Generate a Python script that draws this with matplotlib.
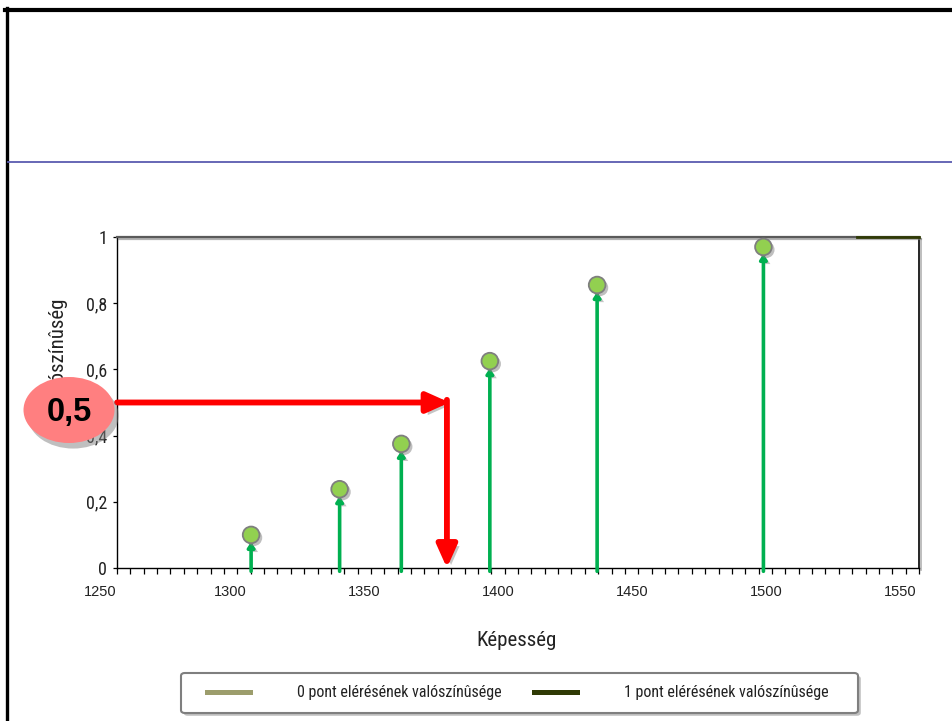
import numpy as np
import matplotlib
matplotlib.use("Agg")
import matplotlib.pyplot as plt
import matplotlib.patheffects as pe
from matplotlib import font_manager as fm
from matplotlib.lines import Line2D
from matplotlib.patches import Ellipse, FancyBboxPatch

# ---------------- data ----------------
abilities = [1309, 1342, 1365, 1398, 1438, 1500]
probabilities = [0.10, 0.238, 0.375, 0.625, 0.855, 0.97]
threshold_p = 0.5
threshold_ability = 1382
threshold_label = "0,5"
curve1_x = [1535, 1558]          # visible piece of the "1 pont" curve
curve1_y = [1.0, 1.0]
x_ticklabels = [1250, 1300, 1350, 1400, 1450, 1500, 1550]
y_ticks = [0, 0.2, 0.4, 0.6, 0.8, 1.0]
y_ticklabels = ["0", "0,2", "0,4", "0,6", "0,8", "1"]
legend_labels = ["0 pont elérésének valószínûsége", "1 pont elérésének valószínûsége"]
x_label = "Képesség"
y_label = "Valószínûség"


def pick(names, default="DejaVu Sans"):
    for n in names:
        try:
            fm.findfont(fm.FontProperties(family=n), fallback_to_default=False)
            return n
        except Exception:
            pass
    return default


narrow = pick(["Liberation Sans Narrow", "Roboto Condensed", "Open Sans Condensed"])
regular = pick(["Liberation Sans", "Arial"])

W, H = 953, 721
fig = plt.figure(figsize=(W / 100, H / 100), dpi=100)


def fx(px):
    return px / W


def fy(py):
    return 1 - py / H


# slide decorations
fig.add_artist(Line2D([fx(5), fx(953)], [fy(10), fy(10)], color="black", lw=3.0))
fig.add_artist(Line2D([fx(6.5), fx(6.5)], [fy(8), fy(721)], color="black", lw=2.4))
fig.add_artist(Line2D([fx(8), fx(953)], [fy(162), fy(162)], color="#5a5cb0", lw=1.3))

ax = fig.add_axes([fx(117), fy(568), fx(919) - fx(117), fy(237) - fy(568)])
ax.set_xlim(1259, 1558)
ax.set_ylim(0, 1)

for s in ["left", "bottom"]:
    ax.spines[s].set_color("black")
    ax.spines[s].set_linewidth(1.0)
ax.spines["top"].set_color("#5a5a5a")
ax.spines["top"].set_linewidth(1.6)
ax.spines["right"].set_color("black")
ax.spines["right"].set_linewidth(1.2)
shadow = [pe.SimpleLineShadow(offset=(1.5, -1.5), shadow_color="gray", alpha=0.6), pe.Normal()]
ax.spines["right"].set_path_effects(shadow)
ax.spines["top"].set_path_effects(shadow)

# ticks
ax.set_xticks(np.linspace(1259, 1558, 61))
ax.tick_params(axis="x", direction="out", length=4, width=0.9, labelbottom=False)
ax.set_yticks(y_ticks)
ax.set_yticklabels(y_ticklabels, fontsize=13, family=narrow, color="#222222")
ax.tick_params(axis="y", direction="out", length=3, width=0.9, pad=4)

for v in x_ticklabels:
    ax.annotate(str(v), xy=(v, 0), xycoords=("data", "axes fraction"),
                xytext=(3 if v != 1250 else 7, -24), textcoords="offset pixels",
                ha="center", va="center", fontsize=10.5, family=regular,
                color="#222222", annotation_clip=False)

# visible piece of "1 pont" curve
ax.plot(curve1_x, curve1_y, color="#2f3a05", lw=2.0, clip_on=False, zorder=3)

# green stems with arrowheads
stem_shadow = [pe.withSimplePatchShadow(offset=(3, -2), shadow_rgbFace="gray", alpha=0.45)]
for xv, pv in zip(abilities, probabilities):
    ax.annotate("", xy=(xv, pv), xytext=(xv, -0.01),
                arrowprops=dict(arrowstyle="-|>,head_length=0.3,head_width=0.2",
                                color="#00b050", lw=2.6, shrinkA=0, shrinkB=5,
                                mutation_scale=10, path_effects=stem_shadow),
                annotation_clip=False, zorder=4)

markers = ax.plot(abilities, probabilities, "o", ms=12, mfc="#92d050",
                  mec="#7f7f7f", mew=1.3, zorder=6, clip_on=False)[0]
markers.set_path_effects([pe.SimplePatchShadow(offset=(2, -2), shadow_rgbFace="gray", alpha=0.5),
                          pe.Normal()])

# red arrows
red_shadow = [pe.withSimplePatchShadow(offset=(3, -3), shadow_rgbFace="gray", alpha=0.45)]
red_style = "-|>,head_length=0.85,head_width=0.38"
ax.annotate("", xy=(threshold_ability + 1, threshold_p), xytext=(1259, threshold_p),
            arrowprops=dict(arrowstyle=red_style, color="#ff0000", lw=4.2,
                            shrinkA=0, shrinkB=0, mutation_scale=16,
                            path_effects=red_shadow),
            annotation_clip=False, zorder=7)
ax.annotate("", xy=(threshold_ability, 0), xytext=(threshold_ability, threshold_p + 0.008),
            arrowprops=dict(arrowstyle=red_style, color="#ff0000", lw=4.2,
                            shrinkA=0, shrinkB=0, mutation_scale=16,
                            path_effects=red_shadow),
            annotation_clip=False, zorder=7)

# axis labels
fig.text(fx(517), fy(640), x_label, ha="center", va="center", fontsize=15,
         family=narrow, color="#222222")
fig.text(fx(58), fy(297), y_label, ha="center", va="top", rotation=90,
         fontsize=15, family=narrow, color="#222222")

# red ellipse with threshold value
ell = Ellipse((fx(69), fy(410)), fx(91), 66 / H, transform=fig.transFigure,
              facecolor="#ff7f80", edgecolor="none", zorder=20)
ell.set_path_effects([pe.withSimplePatchShadow(offset=(3, -4), shadow_rgbFace="gray", alpha=0.5)])
fig.add_artist(ell)
fig.text(fx(69), fy(412), threshold_label, ha="center", va="center", fontsize=23.5,
         fontweight="bold", family=regular, color="black", zorder=21)

# legend frame
box = FancyBboxPatch((fx(181), fy(713)), fx(858) - fx(181), 40 / H,
                     boxstyle="round,pad=0,rounding_size=0.004",
                     transform=fig.transFigure, facecolor="white",
                     edgecolor="#7f7f7f", lw=1.5, zorder=10)
box.set_path_effects([pe.withSimplePatchShadow(offset=(2, -2), shadow_rgbFace="gray", alpha=0.5)])
fig.add_artist(box)

handles = [Line2D([], [], color="#9c9d6c", lw=3.6),
           Line2D([], [], color="#2f3a05", lw=3.6)]
leg = fig.legend(handles, legend_labels, ncol=2, loc="center",
                 bbox_to_anchor=(fx(207), fy(713), fx(829) - fx(207), 40 / H),
                 mode="expand", frameon=False,
                 handlelength=2.7, handletextpad=2.95, borderaxespad=0, borderpad=0,
                 prop=dict(family=narrow, size=11.5))
leg.set_zorder(11)
for t in leg.get_texts():
    t.set_color("#222222")

fig.savefig("out.png", dpi=100)
